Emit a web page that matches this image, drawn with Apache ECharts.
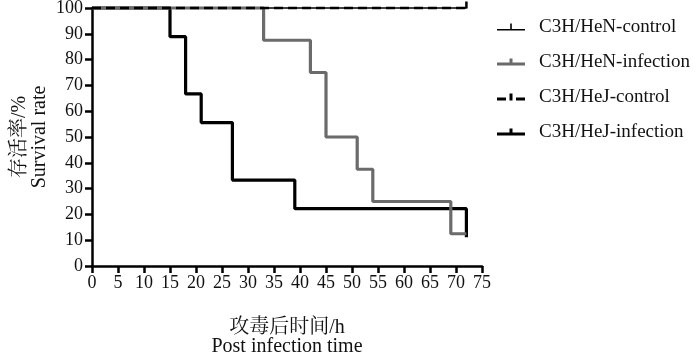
<!DOCTYPE html>
<html>
<head>
<meta charset="utf-8">
<script src="https://cdn.jsdelivr.net/npm/echarts@6/dist/echarts.min.js"></script>
<style>html,body{margin:0;padding:0;background:#fff}#c{width:700px;height:352px}</style>
</head>
<body>
<div id="c"></div>
<script>
var seriesNames = ['C3H/HeN-control', 'C3H/HeN-infection', 'C3H/HeJ-control', 'C3H/HeJ-infection'];
var timeHeNControl = [0, 72];
var survHeNControl = [100, 100];
var timeHeNInfection = [0, 33, 42, 45, 51, 54, 69, 72];
var survHeNInfection = [100, 87.5, 75, 50, 37.5, 25, 12.5, 12.5];
var timeHeJControl = [0, 72];
var survHeJControl = [100, 100];
var timeHeJInfection = [0, 15, 18, 21, 27, 39, 72, 72];
var survHeJInfection = [100, 88.9, 66.7, 55.6, 33.3, 22.2, 22.2, 11.1];
var xTicks = [0, 5, 10, 15, 20, 25, 30, 35, 40, 45, 50, 55, 60, 65, 70, 75];
var yTicks = [0, 10, 20, 30, 40, 50, 60, 70, 80, 90, 100];

var FONT = "'Liberation Serif', 'Noto Serif CJK SC', 'Noto Sans CJK SC', serif";

function pairs(t, s, censorLast) {
  return t.map(function (x, i) {
    var item = { value: [x, s[i]] };
    if (censorLast && i === t.length - 1) {
      item.symbol = 'rect';
      item.symbolSize = [2.5, 7];
      item.symbolOffset = [0, -3];
    }
    return item;
  });
}

var chart = echarts.init(document.getElementById('c'), null, { renderer: 'canvas' });
var gray = '#6b6b6b';
chart.setOption({
  animation: false,
  textStyle: { fontFamily: FONT },
  grid: { left: 92, right: 218, top: 8, bottom: 86, containLabel: false, outerBoundsMode: 'none' },
  legend: {
    orient: 'vertical',
    left: 497,
    top: 17,
    itemWidth: 28,
    itemHeight: 7,
    itemGap: 15,
    padding: 0,
    textStyle: { fontFamily: FONT, fontSize: 19, color: '#111', lineHeight: 20, padding: [0, 0, 0, 9] },
    data: [
      { name: seriesNames[0], icon: 'path://M0,5.5h28v1.5h-28z M13.2,0h1.6v7h-1.6z', itemStyle: { color: '#000' } },
      { name: seriesNames[1], icon: 'path://M0,4h28v3h-28z M12.5,0h3v7h-3z', itemStyle: { color: gray } },
      { name: seriesNames[2], icon: 'path://M0,4h9v3h-9z M12.5,0h3v7h-3z M19,4h9v3h-9z', itemStyle: { color: '#000' } },
      { name: seriesNames[3], icon: 'path://M0,4h28v3h-28z M12.5,0h3v7h-3z', itemStyle: { color: '#000' } }
    ]
  },
  xAxis: {
    type: 'value',
    min: 0, max: 75, interval: 5,
    name: '攻毒后时间/h\nPost infection time',
    nameLocation: 'middle',
    nameGap: 52,
    nameMoveOverlap: false,
    nameTextStyle: { fontFamily: FONT, fontSize: 20, color: '#111', lineHeight: 19 },
    axisLine: { show: true, onZero: false, lineStyle: { color: '#000', width: 2.5 } },
    axisTick: { show: true, length: 7, lineStyle: { color: '#000', width: 2.5 } },
    axisLabel: { fontFamily: FONT, fontSize: 18, color: '#111', margin: 8,
      formatter: function (v) { return xTicks.indexOf(v) >= 0 ? String(v) : ''; } },
    splitLine: { show: false }
  },
  yAxis: {
    type: 'value',
    min: 0, max: 100, interval: 10,
    name: '存活率/%\nSurvival rate',
    nameLocation: 'middle',
    nameGap: 42,
    nameMoveOverlap: false,
    nameRotate: 90,
    nameTextStyle: { fontFamily: FONT, fontSize: 20, color: '#111', lineHeight: 20 },
    axisLine: { show: true, onZero: false, lineStyle: { color: '#000', width: 2.5 } },
    axisTick: { show: true, length: 7, lineStyle: { color: '#000', width: 2.5 } },
    axisLabel: { fontFamily: FONT, fontSize: 18, color: '#111', margin: 9,
      formatter: function (v) { return yTicks.indexOf(v) >= 0 ? String(v) : ''; } },
    splitLine: { show: false }
  },
  series: [
    { name: seriesNames[0], type: 'line', step: 'end', clip: false, symbol: 'none',
      lineStyle: { color: '#000', width: 1.5 }, itemStyle: { color: '#000' },
      data: pairs(timeHeNControl, survHeNControl, true) },
    { name: seriesNames[3], type: 'line', step: 'end', clip: false, symbol: 'none',
      lineStyle: { color: '#000', width: 3.2 }, itemStyle: { color: '#000' },
      data: pairs(timeHeJInfection, survHeJInfection, false) },
    { name: seriesNames[1], type: 'line', step: 'end', clip: false, symbol: 'none',
      lineStyle: { color: gray, width: 3.2 }, itemStyle: { color: gray },
      data: pairs(timeHeNInfection, survHeNInfection, false) },
    { name: seriesNames[2], type: 'line', step: 'end', clip: false, symbol: 'none',
      lineStyle: { color: '#000', width: 2.5, type: [9, 5] }, itemStyle: { color: '#000' },
      data: pairs(timeHeJControl, survHeJControl, false) }
  ]
});
</script>
</body>
</html>
